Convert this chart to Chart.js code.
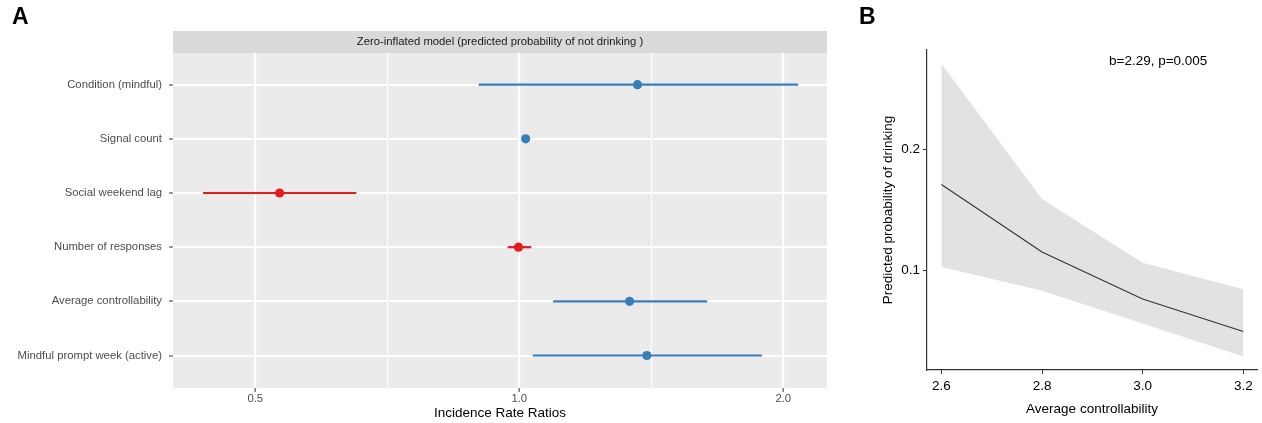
<!DOCTYPE html>
<html>
<head>
<meta charset="utf-8">
<script src="https://cdn.jsdelivr.net/npm/chart.js@4.4.1/dist/chart.umd.min.js"></script>
<style>
  body { margin: 0; background: #fff; font-family: "Liberation Sans", Arial, Helvetica, sans-serif; }
  #wrap { position: relative; width: 1262px; height: 423px; overflow: hidden; }
  canvas { position: absolute; top: 0; }
  #chartA { left: 0; }
  #chartB { left: 840px; }
  .panel { position: absolute; font-weight: bold; font-size: 23px; line-height: 1; top: 5px; color: #000; }
  #note { position: absolute; left: 1109px; top: 54px; font-size: 13.5px; line-height: 1; color: #000; white-space: nowrap; }
</style>
</head>
<body>
<div id="wrap">
  <canvas id="chartA" width="840" height="423"></canvas>
  <canvas id="chartB" width="422" height="423"></canvas>
  <div class="panel" style="left:12px">A</div>
  <div class="panel" style="left:859px">B</div>
  <div id="note">b=2.29, p=0.005</div>
</div>
<script>
// --- Panel A : forest plot (incidence rate ratios, log scale) ---
const A_labels = [
  "Condition (mindful)",
  "Signal count",
  "Social weekend lag",
  "Number of responses",
  "Average controllability",
  "Mindful prompt week (active)"
];
const A_irr  = [1.364, 1.017, 0.533, 0.998, 1.336, 1.398];
const A_low  = [0.899, 1.010, 0.436, 0.970, 1.093, 1.036];
const A_high = [2.079, 1.024, 0.652, 1.032, 1.638, 1.891];
const A_xTicks = [0.5, 1, 2];
const A_xTickLabels = ["0.5", "1.0", "2.0"];
const A_strip = "Zero-inflated model (predicted probability of not drinking )";
const A_xTitle = "Incidence Rate Ratios";

// --- Panel B : predicted probability vs average controllability ---
const B_x     = [2.6, 2.8, 3.0, 3.2];
const B_pred  = [0.171, 0.115, 0.076, 0.049];
const B_upper = [0.271, 0.159, 0.106, 0.084];
const B_lower = [0.1025, 0.0828, 0.0556, 0.0283];
const B_yTicks = [0.1, 0.2];
const B_xTitle = "Average controllability";
const B_yTitle = "Predicted probability of drinking";

const FONT = '"Liberation Sans", Arial, Helvetica, sans-serif';
Chart.defaults.font.family = FONT;
Chart.defaults.animation = false;

const BLUE = "#377EB8";
const RED = "#E41A1C";

// minor grid lines half-way (in log space) between the major ticks
const A_minor = [];
for (let i = 0; i < A_xTicks.length - 1; i++) {
  A_minor.push(Math.sqrt(A_xTicks[i] * A_xTicks[i + 1]));
}
const A_gridVals = A_xTicks.concat(A_minor).sort((a, b) => a - b);
const isMajor = (v) => A_xTicks.some(t => Math.abs(t - v) < 1e-9);

// gray panel background + facet strip
const panelBg = {
  id: "panelBg",
  beforeDraw(chart) {
    const { ctx, chartArea: a } = chart;
    ctx.save();
    ctx.fillStyle = "#EBEBEB";
    ctx.fillRect(a.left, a.top, a.right - a.left, a.bottom - a.top);
    ctx.fillStyle = "#D9D9D9";
    ctx.fillRect(a.left, a.top - 22, a.right - a.left, 22);
    ctx.fillStyle = "#1A1A1A";
    ctx.font = "11.3px " + FONT;
    ctx.textAlign = "center";
    ctx.textBaseline = "middle";
    ctx.fillText(A_strip, (a.left + a.right) / 2, a.top - 11);
    ctx.restore();
  }
};

const A_datasets = [];
A_labels.forEach((lab, i) => {
  const col = A_irr[i] < 1 ? RED : BLUE;
  A_datasets.push({
    data: [{ x: A_low[i], y: i }, { x: A_high[i], y: i }],
    showLine: true,
    borderColor: col,
    borderWidth: 2.2,
    pointRadius: 0,
    order: 2
  });
});
A_datasets.push({
  data: A_irr.map((v, i) => ({ x: v, y: i })),
  pointRadius: 4.6,
  pointBorderWidth: 0,
  pointBackgroundColor: A_irr.map(v => (v < 1 ? RED : BLUE)),
  order: 1
});

new Chart(document.getElementById("chartA"), {
  type: "scatter",
  data: { datasets: A_datasets },
  plugins: [panelBg],
  options: {
    responsive: false,
    layout: { padding: { top: 53, right: 13, left: 0, bottom: 0 } },
    plugins: { legend: { display: false }, tooltip: { enabled: false } },
    scales: {
      x: {
        type: "logarithmic",
        min: 0.4029,
        max: 2.2435,
        afterBuildTicks: (scale) => { scale.ticks = A_gridVals.map(v => ({ value: v })); },
        afterFit: (scale) => { scale.height = 35; },
        border: { display: false },
        grid: {
          color: "#FFFFFF",
          lineWidth: (c) => (c.tick && isMajor(c.tick.value) ? 2.2 : 1.1),
          tickColor: (c) => (c.tick && isMajor(c.tick.value) ? "#333333" : "rgba(0,0,0,0)"),
          tickWidth: 1,
          tickLength: 4
        },
        ticks: {
          autoSkip: false,
          maxRotation: 0,
          padding: 0,
          color: "#4D4D4D",
          font: { size: 11.3 },
          callback: (v) => {
            const k = A_xTicks.findIndex(t => Math.abs(t - v) < 1e-9);
            return k >= 0 ? A_xTickLabels[k] : "";
          }
        },
        title: {
          display: true,
          text: A_xTitle,
          color: "#000",
          font: { size: 13.5 },
          padding: { top: 0, bottom: 2 }
        }
      },
      y: {
        type: "linear",
        reverse: true,
        min: -0.585,
        max: 5.6,
        afterBuildTicks: (scale) => { scale.ticks = A_labels.map((_, i) => ({ value: i })); },
        afterFit: (scale) => { scale.width = 173; },
        border: { display: false },
        grid: { color: "#FFFFFF", lineWidth: 2, tickColor: "#333333", tickWidth: 1, tickLength: 4 },
        ticks: {
          autoSkip: false,
          padding: 7,
          color: "#4D4D4D",
          font: { size: 11.3 },
          callback: (v) => A_labels[v]
        }
      }
    }
  }
});

const pts = (ys) => B_x.map((x, i) => ({ x: x, y: ys[i] }));

new Chart(document.getElementById("chartB"), {
  type: "scatter",
  data: {
    datasets: [
      { data: pts(B_pred), showLine: true, borderColor: "#333333", borderWidth: 1.1, pointRadius: 0, order: 0 },
      { data: pts(B_upper), showLine: true, borderWidth: 0, borderColor: "rgba(0,0,0,0)", pointRadius: 0,
        fill: "+1", backgroundColor: "#E1E2E4", order: 1 },
      { data: pts(B_lower), showLine: true, borderWidth: 0, borderColor: "rgba(0,0,0,0)", pointRadius: 0,
        fill: false, order: 2 }
    ]
  },
  options: {
    responsive: false,
    layout: { padding: { top: 50, right: 5, left: 0, bottom: 0 } },
    plugins: { legend: { display: false }, tooltip: { enabled: false } },
    scales: {
      x: {
        type: "linear",
        min: 2.5714,
        max: 3.2273,
        afterBuildTicks: (scale) => { scale.ticks = B_x.map(v => ({ value: v })); },
        afterFit: (scale) => { scale.height = 53; },
        border: { display: true, color: "#333", width: 1.2 },
        grid: { drawOnChartArea: false, color: "#333", tickLength: 4, lineWidth: 1 },
        ticks: {
          autoSkip: false, maxRotation: 0, padding: 4.5, color: "#000",
          font: { size: 13.5 },
          callback: (v) => Number(v).toFixed(1)
        },
        title: { display: true, text: B_xTitle, color: "#000", font: { size: 13.5 }, padding: { top: 0, bottom: 6 } }
      },
      y: {
        type: "linear",
        min: 0.0171,
        max: 0.2825,
        afterBuildTicks: (scale) => { scale.ticks = B_yTicks.map(v => ({ value: v })); },
        afterFit: (scale) => { scale.width = 87; },
        border: { display: true, color: "#333", width: 1.2 },
        grid: { drawOnChartArea: false, color: "#333", tickLength: 4, lineWidth: 1 },
        ticks: {
          autoSkip: false, padding: 3, color: "#000",
          font: { size: 13.5 },
          callback: (v) => Number(v).toFixed(1)
        },
        title: { display: true, text: B_yTitle, color: "#000", font: { size: 13.5 }, padding: { top: 40, bottom: 0 } }
      }
    }
  }
});
</script>
</body>
</html>
